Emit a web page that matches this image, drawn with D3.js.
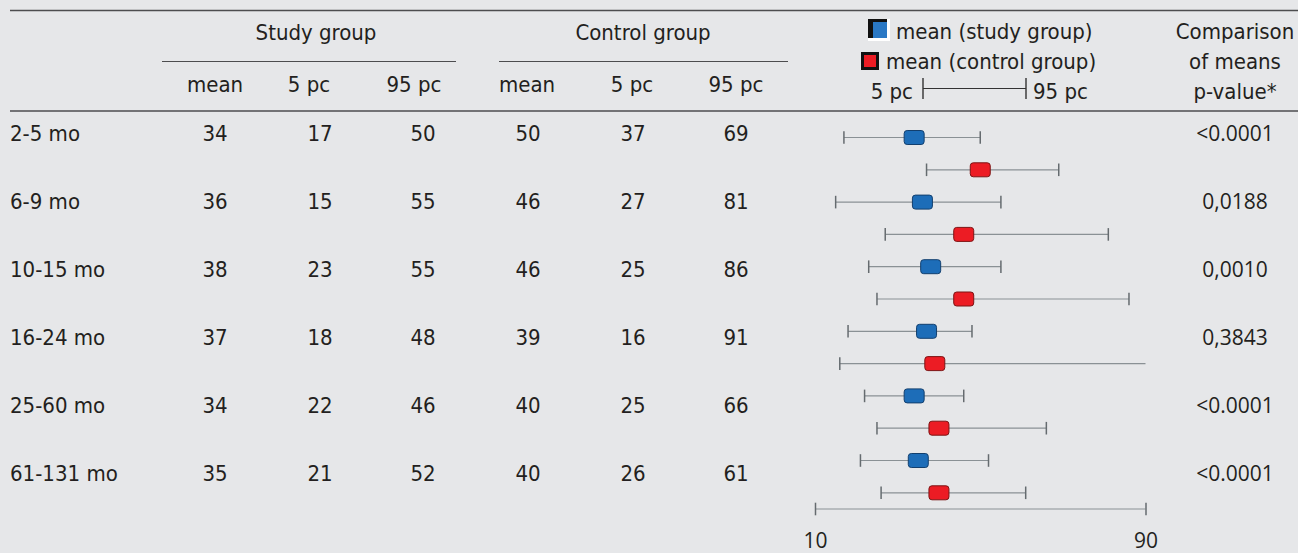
<!DOCTYPE html>
<html>
<head>
<meta charset="utf-8">
<script src="https://cdn.jsdelivr.net/npm/d3@7"></script>
<style>
  html, body { margin: 0; padding: 0; background: #e6e7e9; }
  svg { display: block; }
  .tbl { font-family: "DejaVu Sans Condensed", "DejaVu Sans", sans-serif; font-size: 22px; fill: #231f20; }
  .num { font-family: "Open Sans", sans-serif; font-size: 21px; fill: #231f20; }
</style>
</head>
<body>
<svg id="chart" width="1298" height="553"></svg>
<script>
// Age groups and percentile summaries (mean, 5th, 95th percentile)
const ageGroups = ["2-5 mo", "6-9 mo", "10-15 mo", "16-24 mo", "25-60 mo", "61-131 mo"];
const studyMean = [34, 36, 38, 37, 34, 35];
const study5 = [17, 15, 23, 18, 22, 21];
const study95 = [50, 55, 55, 48, 46, 52];
const controlMean = [50, 46, 46, 39, 40, 40];
const control5 = [37, 27, 25, 16, 25, 26];
const control95 = [69, 81, 86, 91, 66, 61];
const pValues = ["<0.0001", "0,0188", "0,0010", "0,3843", "<0.0001", "<0.0001"];
const axisTicks = [10, 90];
const groupTitles = ["Study group", "Control group"];
const columnTitles = ["mean", "5 pc", "95 pc"];

const svg = d3.select("#chart");
const ink = "#231f20";
const ruleColor = "#4d4d4f";

// ---- table rules ----
function rule(x1, x2, y, w) {
  svg.append("line").attr("x1", x1).attr("x2", x2).attr("y1", y).attr("y2", y)
    .attr("stroke", ruleColor).attr("stroke-width", w || 1.4);
}
rule(10, 1298, 10.5);
rule(10, 1298, 111);
rule(162, 456, 61.5, 1.2);
rule(499, 788, 61.5, 1.2);

// ---- header texts ----
const groupCenters = [316, 643];
const headCols = [[215, 309, 414], [527, 632, 736]];
const valCols = [[215, 320, 423], [528, 633, 736]];

groupTitles.forEach((t, g) => {
  svg.append("text").attr("class", "tbl").attr("x", groupCenters[g]).attr("y", 40)
    .attr("text-anchor", "middle").text(t);
  columnTitles.forEach((c, j) => {
    svg.append("text").attr("class", "tbl").attr("x", headCols[g][j]).attr("y", 92)
      .attr("text-anchor", "middle").text(c);
  });
});

// comparison column header
["Comparison", "of means", "p-value*"].forEach((t, i) => {
  svg.append("text").attr("class", "tbl").attr("x", 1235).attr("y", 39 + 30 * i)
    .attr("text-anchor", "middle").text(t);
});

// ---- legend ----
const blueFill = "#1d6db8", blueStroke = "#123f6e";
const redFill = "#ec1c24", redStroke = "#7d1414";

const lg = svg.append("g");
lg.append("rect").attr("x", 868).attr("y", 19).attr("width", 22).attr("height", 22).attr("fill", "#ffffff");
lg.append("rect").attr("x", 868).attr("y", 19).attr("width", 19).attr("height", 19).attr("fill", "#111");
lg.append("rect").attr("x", 873).attr("y", 22).attr("width", 14).attr("height", 16).attr("fill", "#2a78c4");
lg.append("text").attr("class", "tbl").attr("x", 896).attr("y", 39).text("mean (study group)");

lg.append("rect").attr("x", 861).attr("y", 52).attr("width", 18).attr("height", 18).attr("fill", "#111");
lg.append("rect").attr("x", 864).attr("y", 55).attr("width", 12).attr("height", 12).attr("fill", redFill);
lg.append("text").attr("class", "tbl").attr("x", 886).attr("y", 69).text("mean (control group)");

lg.append("text").attr("class", "tbl").attr("x", 913).attr("y", 99).attr("text-anchor", "end").text("5 pc");
lg.append("line").attr("x1", 923).attr("x2", 1026).attr("y1", 88.5).attr("y2", 88.5).attr("stroke", "#333").attr("stroke-width", 1.2);
[923, 1026].forEach(x => lg.append("line").attr("x1", x).attr("x2", x).attr("y1", 78).attr("y2", 99)
  .attr("stroke", "#333").attr("stroke-width", 1.4));
lg.append("text").attr("class", "tbl").attr("x", 1033).attr("y", 99).text("95 pc");

// ---- table body ----
const rowBase = d3.scaleLinear().domain([0, 1]).range([141, 209]);
ageGroups.forEach((label, i) => {
  const y = rowBase(i);
  svg.append("text").attr("class", "tbl").attr("x", 10).attr("y", y).text(label);
  const vals = [[studyMean[i], study5[i], study95[i]], [controlMean[i], control5[i], control95[i]]];
  vals.forEach((grp, g) => grp.forEach((v, j) => {
    svg.append("text").attr("class", "tbl").attr("x", valCols[g][j]).attr("y", y)
      .attr("text-anchor", "middle").text(v);
  }));
  svg.append("text").attr("class", "num").attr("x", 1235).attr("y", y)
    .attr("text-anchor", "middle").text(pValues[i]);
});

// ---- forest plot ----
const x = d3.scaleLinear().domain([axisTicks[0], axisTicks[axisTicks.length - 1]]).range([815, 1145.5]).clamp(true);
const slot = d3.scaleLinear().domain([0, 1]).range([137.5, 169.8]);
const [dMin, dMax] = x.domain();

const plot = svg.append("g");
function whisker(lo, hi, yc) {
  plot.append("line").attr("x1", x(lo)).attr("x2", x(hi)).attr("y1", yc).attr("y2", yc)
    .attr("stroke", "#8a9195").attr("stroke-width", 1.2);
  [lo, hi].forEach(v => {
    if (v >= dMin && v <= dMax) {
      plot.append("line").attr("x1", x(v)).attr("x2", x(v)).attr("y1", yc - 6.3).attr("y2", yc + 6.3)
        .attr("stroke", "#656b6f").attr("stroke-width", 1.5);
    }
  });
}
function marker(v, yc, fill, stroke) {
  plot.append("rect").attr("x", x(v) - 10).attr("y", yc - 7).attr("width", 20).attr("height", 14)
    .attr("rx", 3).attr("ry", 3).attr("fill", fill).attr("stroke", stroke).attr("stroke-width", 1);
}

ageGroups.forEach((_, i) => {
  const yb = slot(2 * i), yr = slot(2 * i + 1);
  whisker(study5[i], study95[i], yb);
  marker(studyMean[i], yb, blueFill, blueStroke);
  whisker(control5[i], control95[i], yr);
  marker(controlMean[i], yr, redFill, redStroke);
});

// ---- scale axis ----
const axisY = 509;
const axis = d3.axisBottom(x).tickValues(axisTicks).tickSize(0).tickPadding(0).tickFormat(d3.format("d"));
const ag = svg.append("g").attr("transform", `translate(0,${axisY})`).call(axis);
ag.select(".domain").remove();
ag.insert("line", ":first-child").attr("x1", x(dMin)).attr("x2", x(dMax)).attr("y1", 0).attr("y2", 0)
  .attr("stroke", "#8a9195").attr("stroke-width", 1.2);
ag.selectAll(".tick line").attr("y1", -6.3).attr("y2", 6.3).attr("stroke", "#656b6f").attr("stroke-width", 1.5);
ag.selectAll(".tick text").attr("class", "num").attr("y", 39).attr("dy", 0)
  .attr("font-family", null).attr("font-size", null).attr("fill", ink);
ag.attr("font-family", null).attr("font-size", null);
</script>
</body>
</html>
